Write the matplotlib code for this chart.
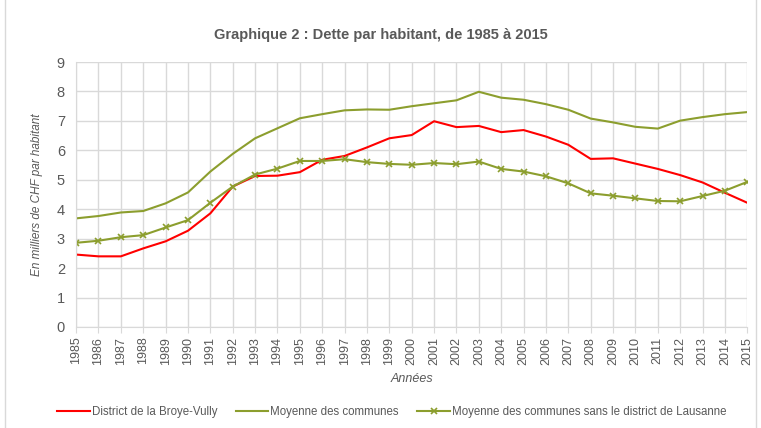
import matplotlib
matplotlib.use("Agg")
import matplotlib.pyplot as plt
from matplotlib import font_manager

years = list(range(1985, 2016))
broye_vully = [2.46, 2.40, 2.40, 2.67, 2.91, 3.27, 3.86, 4.77, 5.13, 5.14,
               5.26, 5.68, 5.81, 6.10, 6.41, 6.52, 6.99, 6.79, 6.83, 6.62,
               6.69, 6.47, 6.19, 5.71, 5.73, 5.55, 5.37, 5.16, 4.91, 4.56, 4.22]
moyenne = [3.69, 3.77, 3.89, 3.94, 4.20, 4.57, 5.28, 5.88, 6.41, 6.75,
           7.09, 7.23, 7.36, 7.39, 7.38, 7.50, 7.60, 7.70, 7.99, 7.79,
           7.72, 7.57, 7.38, 7.08, 6.95, 6.80, 6.74, 7.01, 7.13, 7.23, 7.30]
moyenne_sans_lausanne = [2.86, 2.93, 3.05, 3.12, 3.38, 3.63, 4.22, 4.77, 5.18, 5.38,
                         5.64, 5.64, 5.70, 5.60, 5.54, 5.51, 5.57, 5.53, 5.62, 5.37,
                         5.28, 5.12, 4.88, 4.54, 4.46, 4.37, 4.28, 4.27, 4.45, 4.63, 4.93]

names = {f.name for f in font_manager.fontManager.ttflist}
if "Liberation Sans Narrow" in names:
    plt.rcParams["font.family"] = ["Liberation Sans Narrow", "DejaVu Sans"]
else:
    plt.rcParams["font.family"] = ["Liberation Sans", "DejaVu Sans"]

text_grey = "#595959"
olive = "#8C9E2E"

fig = plt.figure(figsize=(7.61, 4.28), dpi=100)
ax = fig.add_axes([0.1, 0.236, 0.882, 0.619])

ax.plot(years, broye_vully, color="#FF0000", lw=1.5, label="District de la Broye-Vully")
ax.plot(years, moyenne, color=olive, lw=1.5, label="Moyenne des communes")
ax.plot(years, moyenne_sans_lausanne, color=olive, lw=1.5, marker="x", ms=5,
        mew=1.2, label="Moyenne des communes sans le district de Lausanne")

ax.set_xlim(1985, 2015)
ax.set_ylim(0, 9)
ax.set_xticks(years)
ax.set_xticklabels([str(y) for y in years], rotation=90, fontsize=9, color=text_grey)
ax.set_yticks(range(0, 10))
ax.tick_params(axis="y", labelsize=10.5, colors=text_grey, length=0, pad=8)
ax.tick_params(axis="x", length=4, color="#D9D9D9", pad=3)
ax.grid(True, color="#D9D9D9", lw=1)
ax.set_axisbelow(True)
for side in ["top", "right"]:
    ax.spines[side].set_visible(False)
ax.spines["left"].set_color("#D9D9D9")
ax.spines["bottom"].set_color("#D9D9D9")

ax.set_xlabel("Années", fontsize=9, style="italic", color=text_grey, labelpad=6)
ax.set_ylabel("En milliers de CHF par habitant", fontsize=8.5, style="italic",
              color=text_grey, labelpad=10)

fig.suptitle("Graphique 2 : Dette par habitant, de 1985 à 2015", fontsize=10.5,
             fontweight="bold", color=text_grey, y=0.935)

leg = fig.legend(loc="center", bbox_to_anchor=(0.515, 0.037), ncol=3, frameon=False,
                 fontsize=8.3, handlelength=2.8, columnspacing=1.6, handletextpad=0.2)
for t in leg.get_texts():
    t.set_color(text_grey)

fig.patches.append(plt.Rectangle((0.006, -0.01), 0.988, 1.02, transform=fig.transFigure,
                                 fill=False, edgecolor="#D9D9D9", lw=1))

fig.savefig("out.png", dpi=100)
